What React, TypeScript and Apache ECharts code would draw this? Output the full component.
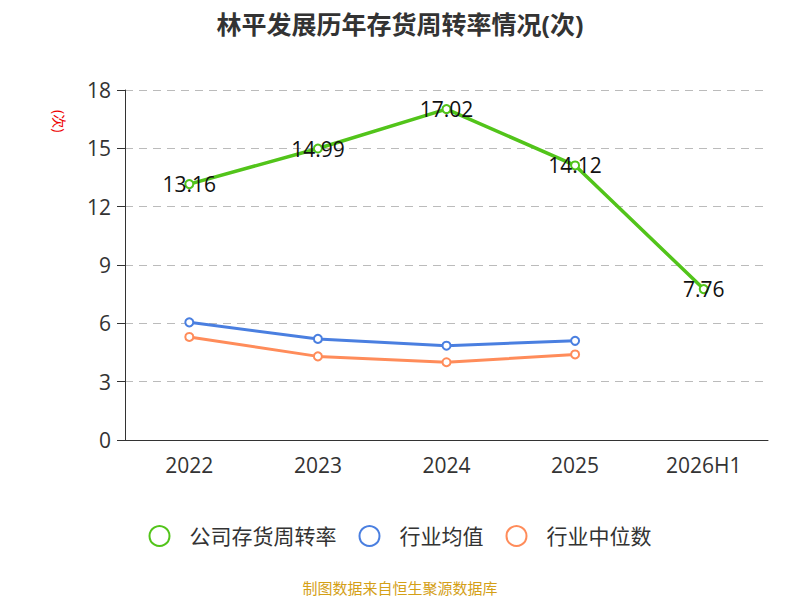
import { useEffect, useRef } from "react";
import * as echarts from "echarts";

const years = ["2022", "2023", "2024", "2025", "2026H1"];
const companyTurnover = [13.16, 14.99, 17.02, 14.12, 7.76];
const industryAvg = [6.05, 5.2, 4.85, 5.1];
const industryMedian = [5.3, 4.3, 4.0, 4.4];

export default function App() {
  const ref = useRef<HTMLDivElement | null>(null);

  useEffect(() => {
    if (!ref.current) return undefined;
    const chart = echarts.init(ref.current, undefined, { renderer: "svg" });
    const font = "'Open Sans', 'Noto Sans CJK SC', sans-serif";
    const line = (name: string, data: number[], color: string, width: number, label: boolean) => ({
      name,
      type: "line",
      data,
      symbol: "emptyCircle",
      symbolSize: 8,
      itemStyle: { color, borderColor: color, borderWidth: 1.5 },
      lineStyle: { width, color },
      emphasis: { disabled: true },
      label: label
        ? { show: true, position: "inside", fontSize: 21, color: "#111", fontFamily: font }
        : { show: false },
    });
    chart.setOption({
      animation: false,
      textStyle: { fontFamily: font },
      title: {
        text: "林平发展历年存货周转率情况(次)",
        left: "center",
        top: 6,
        textStyle: { fontSize: 25, fontWeight: "bold", color: "#333", fontFamily: font },
      },
      graphic: [
        {
          type: "text",
          left: 53,
          top: 110,
          rotation: -Math.PI / 2,
          style: { text: "(次)", fill: "#e00", fontSize: 14, fontFamily: font },
        },
        {
          type: "text",
          left: "center",
          top: 580,
          style: { text: "制图数据来自恒生聚源数据库", fill: "#d4a017", fontSize: 15, fontFamily: font },
        },
      ],
      legend: {
        top: 520,
        left: "center",
        icon: "emptyCircle",
        itemWidth: 50,
        itemHeight: 20,
        itemGap: 22,
        textStyle: { fontSize: 21, color: "#333", fontFamily: font },
        data: ["公司存货周转率", "行业均值", "行业中位数"],
      },
      grid: { left: 125, right: 32, top: 90, bottom: 160 },
      xAxis: {
        type: "category",
        data: years,
        axisLine: { lineStyle: { color: "#333" } },
        axisTick: { length: 8, lineStyle: { color: "#333" } },
        axisLabel: { fontSize: 21, color: "#333", margin: 14 },
      },
      yAxis: {
        type: "value",
        min: 0,
        max: 18,
        interval: 3,
        axisLine: { show: true, lineStyle: { color: "#333" } },
        axisTick: { show: true, length: 8, lineStyle: { color: "#333" } },
        axisLabel: { fontSize: 21, color: "#333", margin: 14 },
        splitLine: { lineStyle: { type: [8, 6], color: "#bbb" } },
      },
      series: [
        line("公司存货周转率", companyTurnover, "#52c41a", 3.5, true),
        line("行业均值", industryAvg, "#4a7fe0", 3, false),
        line("行业中位数", industryMedian, "#ff8c5a", 3, false),
      ],
    });
    return () => chart.dispose();
  }, []);

  return <div ref={ref} style={{ position: "absolute", left: 0, top: 0, width: 800, height: 600 }} />;
}
